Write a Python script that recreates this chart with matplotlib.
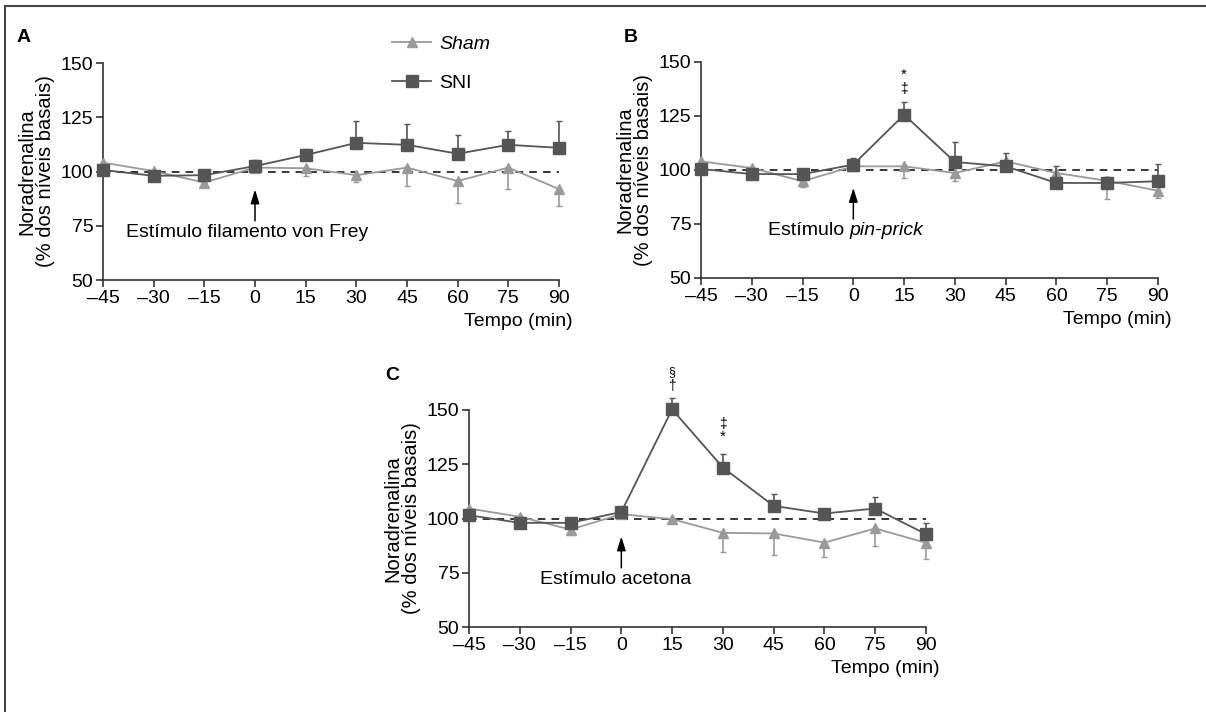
import numpy as np
import matplotlib
matplotlib.use("Agg")
import matplotlib.pyplot as plt
from matplotlib.lines import Line2D

plt.rcParams['font.family'] = ['Liberation Sans', 'DejaVu Sans']
plt.rcParams['font.size'] = 12

tempo = [-45, -30, -15, 0, 15, 30, 45, 60, 75, 90]

# painel A - von Frey
sham_a = [104.1, 100.2, 94.9, 101.8, 101.5, 98.3, 101.8, 95.6, 101.8, 91.9]
sham_a_err = [0.5, 0.5, 2.0, 0.5, 3.5, 3.0, 8.6, 10.0, 10.0, 7.7]
sni_a = [100.7, 98.0, 98.3, 102.5, 107.6, 113.2, 112.3, 108.2, 112.3, 110.9]
sni_a_err = [1.0, 1.0, 0.5, 2.8, 2.6, 10.0, 9.8, 8.4, 6.3, 12.6]

# painel B - pin-prick
sham_b = [104.0, 100.9, 94.8, 101.7, 101.7, 98.6, 104.0, 98.6, 95.0, 90.4]
sham_b_err = [0.5, 0.5, 2.8, 0.5, 5.4, 3.8, 0.5, 1.0, 8.5, 3.4]
sni_b = [100.5, 98.1, 98.1, 102.5, 125.6, 103.7, 101.7, 94.0, 94.0, 94.8]
sni_b_err = [1.0, 0.5, 0.5, 3.0, 5.9, 9.3, 6.2, 7.7, 2.8, 8.0]

# painel C - acetona
sham_c = [104.6, 100.8, 94.9, 102.0, 99.7, 93.4, 93.1, 88.9, 95.4, 88.8]
sham_c_err = [0.5, 0.5, 2.6, 0.5, 0.5, 9.0, 9.7, 6.6, 8.0, 7.5]
sni_c = [101.5, 98.0, 98.0, 103.0, 150.3, 123.5, 105.8, 102.3, 104.6, 92.8]
sni_c_err = [0.5, 0.5, 0.5, 2.3, 5.1, 6.2, 5.7, 1.5, 5.4, 5.0]

c_sham = '#9a9a9a'
c_sni = '#555555'

fig = plt.figure(figsize=(12.06, 7.12), dpi=100)

# moldura (só topo e esquerda)
fig.add_artist(Line2D([5/1206, 1.0], [1 - 6/712, 1 - 6/712], transform=fig.transFigure, color='#444444', lw=1.5))
fig.add_artist(Line2D([5/1206, 5/1206], [0, 1 - 6/712], transform=fig.transFigure, color='#444444', lw=1.5))


def painel(rect, sham, sham_err, sni, sni_err, texto, tx, letra, lx, ly):
    ax = fig.add_axes(rect)
    ax.plot([-45, 90], [100, 100], ls=(0, (5, 4)), color='black', lw=1.1, zorder=1)
    ax.errorbar(tempo, sham, yerr=[sham_err, np.zeros(len(sham))], color=c_sham,
                marker='^', ms=7, lw=1.3, capsize=2.5, elinewidth=1.2, zorder=3, clip_on=False)
    ax.errorbar(tempo, sni, yerr=[np.zeros(len(sni)), sni_err], color=c_sni,
                marker='s', ms=8, lw=1.3, capsize=2.5, elinewidth=1.2, zorder=4, clip_on=False)
    ax.set_xlim(-45, 90)
    ax.set_ylim(50, 150)
    ax.set_xticks(tempo)
    ax.set_xticklabels([str(t).replace('-', '\u2013') for t in tempo], fontsize=14)
    ax.set_yticks([50, 75, 100, 125, 150])
    ax.set_yticklabels(['50', '75', '100', '125', '150'], fontsize=14)
    for s in ['top', 'right']:
        ax.spines[s].set_visible(False)
    for s in ['left', 'bottom']:
        ax.spines[s].set_color('#333333')
        ax.spines[s].set_linewidth(1.2)
    ax.tick_params(length=5, width=1.2, color='#333333', pad=2)
    ax.set_ylabel('Noradrenalina\n(% dos níveis basais)', fontsize=14.5, linespacing=1.0, labelpad=4)
    ax.text(1.03, -0.19, 'Tempo (min)', transform=ax.transAxes, ha='right', va='center', fontsize=14)
    ax.annotate('', xy=(0, 93), xytext=(0, 76),
                arrowprops=dict(arrowstyle='-|>,head_length=0.7,head_width=0.22', color='black', lw=1.1))
    t = ax.text(tx, 72, texto, ha='left', va='center', fontsize=14)
    fig.text(lx, ly, letra, fontsize=14, fontweight='bold', ha='left', va='center')
    return ax, t


ax_a, _ = painel([103/1206, 1 - 280/712, 456/1206, 217/712], sham_a, sham_a_err, sni_a, sni_a_err,
                 'Estímulo filamento von Frey', -38.3, 'A', 17/1206, 1 - 38/712)
ax_b, tb = painel([701/1206, 1 - 278/712, 457/1206, 216/712], sham_b, sham_b_err, sni_b, sni_b_err,
                  'Estímulo ', -25.2, 'B', 624/1206, 1 - 38/712)
ax_c, _ = painel([469/1206, 1 - 627/712, 457/1206, 217/712], sham_c, sham_c_err, sni_c, sni_c_err,
                 'Estímulo acetona', -24, 'C', 385/1206, 1 - 375/712)

# parte em itálico logo depois de "Estímulo "
ax_b.annotate('pin-prick', xy=(1, 0.5), xycoords=tb, ha='left', va='center',
              fontsize=14, style='italic')

# marcas de significância
ax_b.text(15, 144, '*', ha='center', va='center', fontsize=11)
ax_b.text(15, 137.5, '\u2021', ha='center', va='center', fontsize=10)
ax_c.text(15, 167.5, '§', ha='center', va='center', fontsize=9, clip_on=False)
ax_c.text(15, 161, '\u2020', ha='center', va='center', fontsize=10, clip_on=False)
ax_c.text(30, 143.5, '\u2021', ha='center', va='center', fontsize=10)
ax_c.text(30, 137.5, '*', ha='center', va='center', fontsize=11)

handles = [Line2D([], [], color=c_sham, marker='^', ms=7, lw=1.3),
           Line2D([], [], color=c_sni, marker='s', ms=8, lw=1.3)]
leg = fig.legend(handles, ['Sham', 'SNI'], loc='upper left', bbox_to_anchor=(375/1206, 1 - 18/712),
                 frameon=False, fontsize=14, handlelength=2.0, handletextpad=0.4, labelspacing=1.1)
leg.get_texts()[0].set_style('italic')

fig.savefig('out.png', dpi=100)
